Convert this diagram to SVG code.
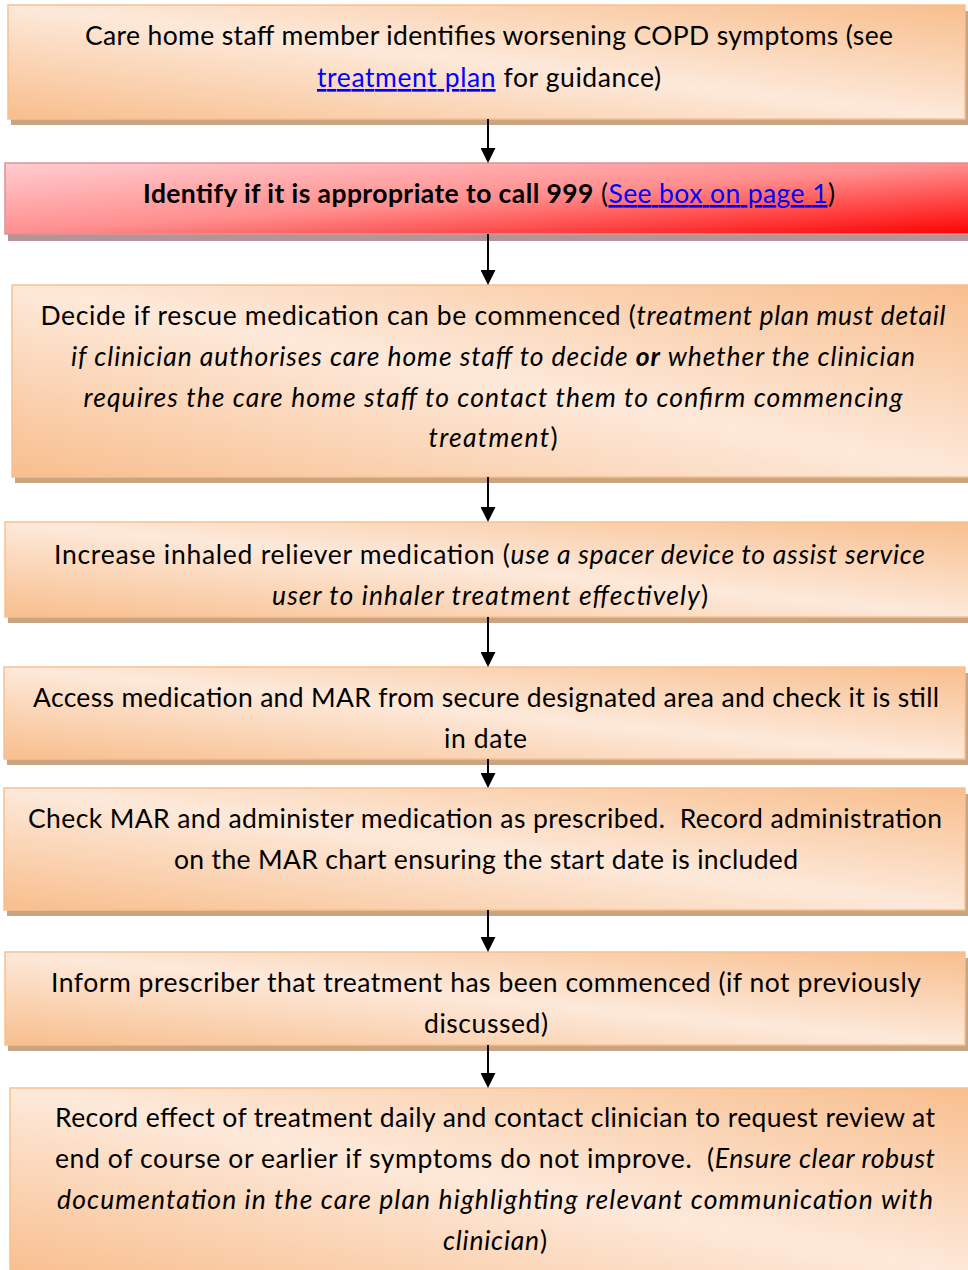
<svg xmlns="http://www.w3.org/2000/svg" width="968" height="1270" viewBox="0 0 968 1270">
<style>
.t{font-family:Lato,"Open Sans","Liberation Sans",sans-serif;font-size:26.5px;fill:#000;text-anchor:middle;white-space:pre}
.i{font-style:italic}
.b{font-weight:bold}
.lnk{fill:#0000ff;text-decoration:underline}
.box{fill:url(#og);stroke:#f9c08f;stroke-width:1.5}
.sh{fill:#c9a483}
.rbox{fill:url(#rg);stroke:#d9949b;stroke-width:1.5}
.rsh{fill:#b49597}
.con{stroke:#000;stroke-width:2;fill:none;marker-end:url(#ah)}
</style>
<defs>
<linearGradient id="og" x1="0" y1="1" x2="1" y2="0">
<stop offset="0" stop-color="#f8be8d"/>
<stop offset="0.5" stop-color="#fde9da"/>
<stop offset="1" stop-color="#f8be8d"/>
</linearGradient>
<linearGradient id="rg" x1="0" y1="0" x2="1" y2="1">
<stop offset="0" stop-color="#ffcdd0"/>
<stop offset="0.5" stop-color="#ff8e8e"/>
<stop offset="1" stop-color="#ff0000"/>
</linearGradient>
<marker id="ah" viewBox="0 0 15 15" markerWidth="15" markerHeight="15" refX="7" refY="7.5" orient="auto" markerUnits="userSpaceOnUse">
<path d="M0,0 L15,7.5 L0,15 Z" fill="#000"/>
</marker>
</defs>
<rect width="968" height="1270" fill="#fff"/>

<g id="n1">
<rect class="sh" x="11" y="11" width="957" height="114"/>
<rect class="box" x="8" y="5" width="957" height="114"/>
<text class="t" x="489" y="45" textLength="808">Care home staff member identifies worsening COPD symptoms (see</text>
<text class="t" x="489" y="87" textLength="344"><tspan class="lnk">treatment plan</tspan> for guidance)</text>
</g>

<g id="n2">
<rect class="rsh" x="8" y="170" width="970" height="71"/>
<rect class="rbox" x="5" y="163" width="975" height="71"/>
<text class="t" x="489" y="203" textLength="692"><tspan class="b">Identify if it is appropriate to call 999</tspan> (<tspan class="lnk">See box on page 1</tspan>)</text>
</g>

<g id="n3">
<rect class="sh" x="15" y="291" width="965" height="192"/>
<rect class="box" x="12" y="285" width="968" height="192"/>
<text class="t" x="493" y="325" textLength="905">Decide if rescue medication can be commenced (<tspan class="i">treatment plan must detail</tspan></text>
<text class="t i" x="493" y="366" textLength="844">if clinician authorises care home staff to decide <tspan class="b">or</tspan> whether the clinician</text>
<text class="t i" x="493" y="407" textLength="819">requires the care home staff to contact them to confirm commencing</text>
<text class="t" x="493" y="447" textLength="129"><tspan class="i">treatment</tspan>)</text>
</g>

<g id="n4">
<rect class="sh" x="8" y="528" width="970" height="95"/>
<rect class="box" x="5" y="522" width="975" height="95"/>
<text class="t" x="489.5" y="564" textLength="871">Increase inhaled reliever medication (<tspan class="i">use a spacer device to assist service</tspan></text>
<text class="t" x="490" y="605" textLength="436"><tspan class="i">user to inhaler treatment effectively</tspan>)</text>
</g>

<g id="n5">
<rect class="sh" x="7" y="673" width="961" height="92"/>
<rect class="box" x="4" y="667" width="961" height="92"/>
<text class="t" x="486" y="707" textLength="906">Access medication and MAR from secure designated area and check it is still</text>
<text class="t" x="485.5" y="748" textLength="83">in date</text>
</g>

<g id="n6">
<rect class="sh" x="7" y="794" width="961" height="122"/>
<rect class="box" x="4" y="788" width="961" height="122"/>
<text class="t" x="485" y="828" textLength="914">Check MAR and administer medication as prescribed.  Record administration</text>
<text class="t" x="486" y="869" textLength="624">on the MAR chart ensuring the start date is included</text>
</g>

<g id="n7">
<rect class="sh" x="8" y="958" width="960" height="93"/>
<rect class="box" x="5" y="952" width="960" height="93"/>
<text class="t" x="486" y="992" textLength="870">Inform prescriber that treatment has been commenced (if not previously</text>
<text class="t" x="486" y="1033" textLength="124">discussed)</text>
</g>

<g id="n8">
<rect class="sh" x="13" y="1094" width="965" height="190"/>
<rect class="box" x="10" y="1088" width="970" height="190"/>
<text class="t" x="495" y="1127" textLength="880">Record effect of treatment daily and contact clinician to request review at</text>
<text class="t" x="495" y="1168" textLength="880">end of course or earlier if symptoms do not improve.  (<tspan class="i">Ensure clear robust</tspan></text>
<text class="t i" x="495" y="1209" textLength="876">documentation in the care plan highlighting relevant communication with</text>
<text class="t" x="495" y="1250" textLength="104"><tspan class="i">clinician</tspan>)</text>
</g>

<g id="connectors">
<path class="con" d="M488,119 V155"/>
<path class="con" d="M488,234 V277"/>
<path class="con" d="M488,477 V514"/>
<path class="con" d="M488,617 V659"/>
<path class="con" d="M488,759 V780"/>
<path class="con" d="M488,910 V944"/>
<path class="con" d="M488,1045 V1080"/>
</g>
</svg>
